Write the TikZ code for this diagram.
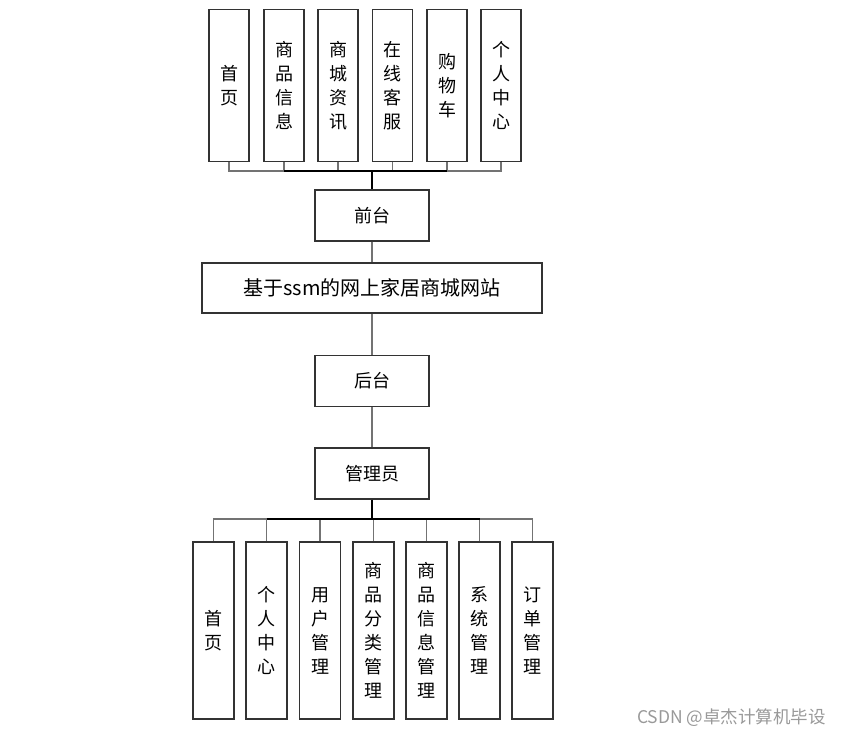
\documentclass[tikz,border=0pt]{standalone}
\usepackage{fontspec}
\newfontfamily\cjk{Noto Sans CJK SC}
\begin{document}
\begin{tikzpicture}[x=1pt,y=-1pt,
  box/.style={draw=black!80, line width=1.1pt, inner sep=0pt, align=center,
    font=\cjk\fontsize{18}{24}\selectfont},
  tbox/.style={box, minimum width=40pt, minimum height=152pt},
  bbox/.style={box, minimum width=41pt, minimum height=177pt},
  hbox/.style={box, minimum width=114pt, minimum height=51pt},
  conn/.style={draw=black!55, line width=1.1pt},
  mainconn/.style={draw=black, line width=1.6pt}]
\useasboundingbox (0,0) rectangle (841,737);
% top row
\node[tbox] (t1) at (229,85.5) {首\\页};
\node[tbox] (t2) at (284,85.5) {商\\品\\信\\息};
\node[tbox] (t3) at (338,85.5) {商\\城\\资\\讯};
\node[tbox] (t4) at (392.5,85.5) {在\\线\\客\\服};
\node[tbox] (t5) at (447,85.5) {购\\物\\车};
\node[tbox] (t6) at (501,85.5) {个\\人\\中\\心};
\node[hbox] (front) at (372,215.5) {前台};
\node[box, minimum width=340pt, minimum height=50pt, font=\cjk\fontsize{20}{24}\selectfont] (main) at (372,288) {基于ssm的网上家居商城网站};
\node[hbox] (back) at (372,381) {后台};
\node[hbox] (admin) at (372,473.5) {管理员};
% bottom row
\node[bbox] (b1) at (213.5,630.5) {首\\页};
\node[bbox] (b2) at (266.5,630.5) {个\\人\\中\\心};
\node[bbox] (b3) at (320,630.5) {用\\户\\管\\理};
\node[bbox] (b4) at (373.5,630.5) {商\\品\\分\\类\\管\\理};
\node[bbox] (b5) at (426.5,630.5) {商\\品\\信\\息\\管\\理};
\node[bbox] (b6) at (479.5,630.5) {系\\统\\管\\理};
\node[bbox] (b7) at (532.5,630.5) {订\\单\\管\\理};
% top connectors
\coordinate (tbus) at (372,171);
\foreach \i in {1,...,6} {\draw[conn] (t\i.south) |- (tbus);}
\draw[mainconn] (t2.south |- tbus) -- (t5.south |- tbus);
\draw[mainconn] (tbus) -- (front.north);
\draw[conn] (front.south) -- (main.north);
\draw[conn] (main.south) -- (back.north);
\draw[conn] (back.south) -- (admin.north);
% bottom connectors
\coordinate (bbus) at (372,519);
\foreach \i in {1,...,7} {\draw[conn] (b\i.north) |- (bbus);}
\draw[mainconn] (b2.north |- bbus) -- (b6.north |- bbus);
\draw[mainconn] (admin.south) -- (bbus);
% watermark
\node[font=\cjk\fontsize{17.5}{20}\selectfont, text=black!40, anchor=east, inner sep=0pt] (wm) at (826,718) {CSDN @卓杰计算机毕设};
\end{tikzpicture}
\end{document}
